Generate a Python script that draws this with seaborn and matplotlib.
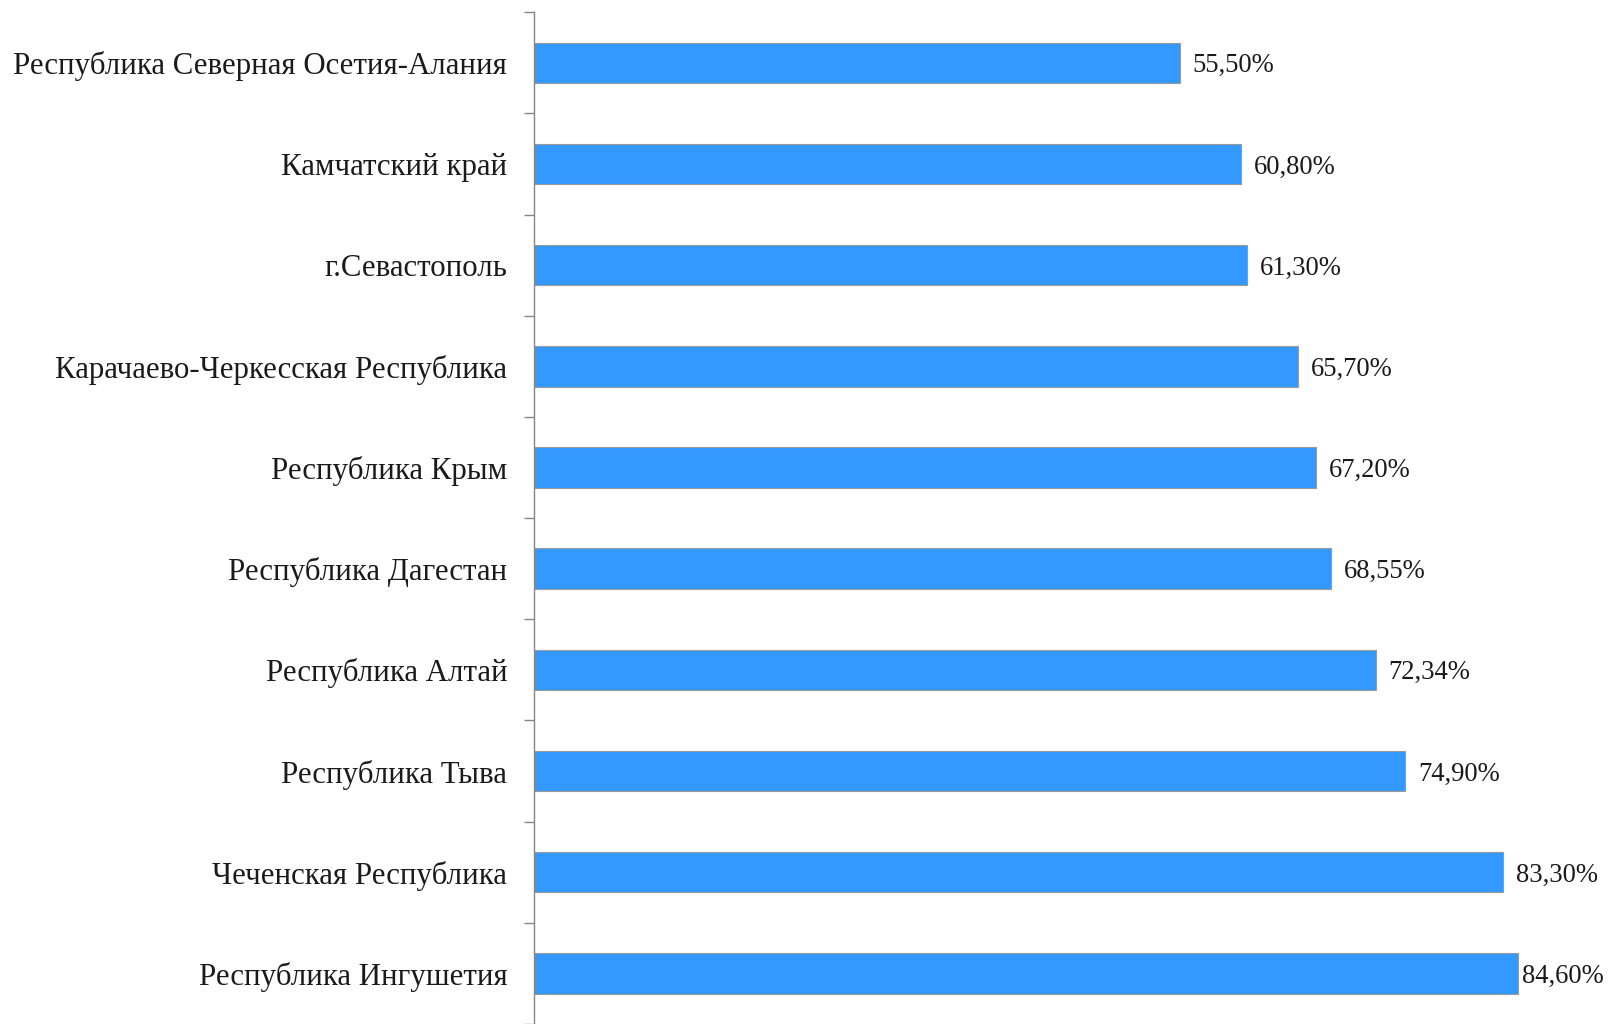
import numpy as np
import pandas as pd
import matplotlib
matplotlib.use("Agg")
import matplotlib.pyplot as plt
import seaborn as sns

regions = [
    "Республика Северная Осетия-Алания",
    "Камчатский край",
    "г.Севастополь",
    "Карачаево-Черкесская Республика",
    "Республика Крым",
    "Республика Дагестан",
    "Республика Алтай",
    "Республика Тыва",
    "Чеченская Республика",
    "Республика Ингушетия",
]
shares = [55.50, 60.80, 61.30, 65.70, 67.20, 68.55, 72.34, 74.90, 83.30, 84.60]

df = pd.DataFrame({"region": regions, "share": shares})

sns.set_style("white")
plt.rcParams["font.family"] = ["Liberation Serif", "DejaVu Serif"]

fig = plt.figure(figsize=(16.09, 10.24), dpi=100)
ax = fig.add_axes([0.3317, 0.0, 0.6683, 0.988])

sns.barplot(data=df, x="share", y="region", orient="h", color="#3399FF",
            width=0.4, edgecolor="#9a9a9a", linewidth=0.8, saturation=1, ax=ax)

# labels beside bars, the last one pushed in so it stays inside the figure
for i, v in enumerate(shares):
    ax.text(min(v + 1.1, 84.9), i, f"{v:.2f}".replace(".", ",") + "%",
            va="center_baseline", ha="left", fontsize=19.2, color="#1a1a1a")

ax.set_xlim(0, 92.4)
ax.set_ylim(len(regions) - 0.5, -0.5)
ax.set_xlabel("")
ax.set_ylabel("")
ax.set_xticks([])
ax.set_yticks(np.arange(-0.5, len(regions), 1), minor=True)
ax.tick_params(axis="y", which="major", length=0, pad=19, labelsize=22.2, labelcolor="#1a1a1a")
ax.tick_params(axis="y", which="minor", length=7, width=1, color="#868686", left=True)
for s in ["top", "right", "bottom"]:
    ax.spines[s].set_visible(False)
ax.spines["left"].set_color("#868686")
ax.spines["left"].set_linewidth(1)

fig.savefig("out.png", dpi=100)
